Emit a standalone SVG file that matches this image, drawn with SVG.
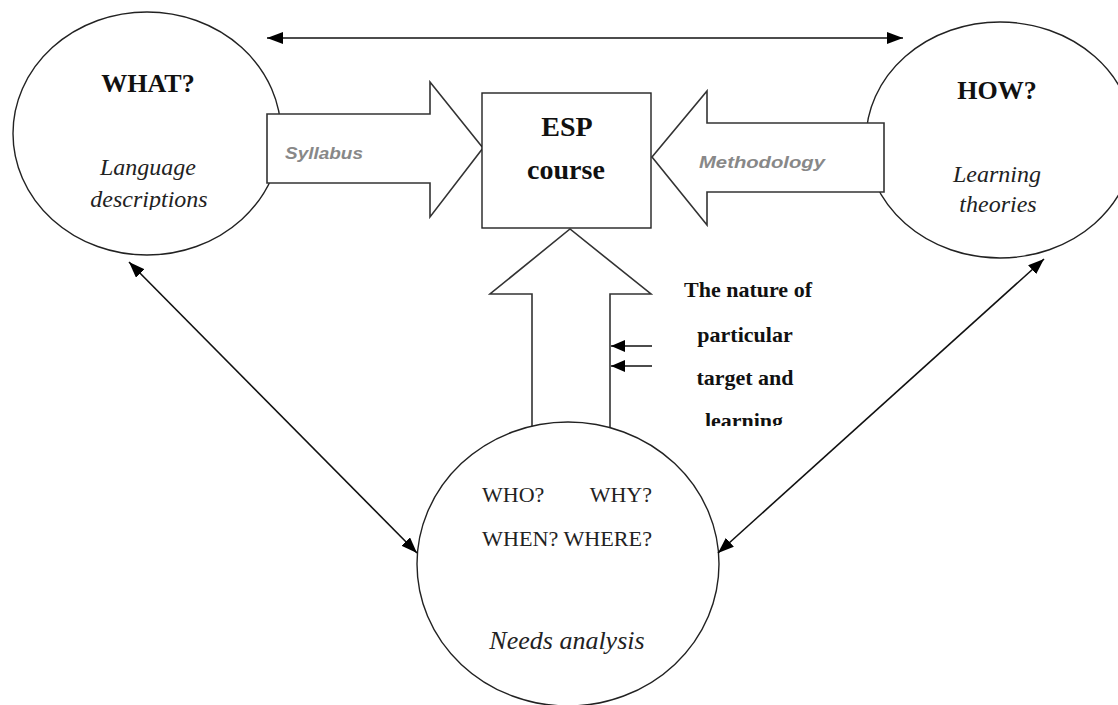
<svg xmlns="http://www.w3.org/2000/svg" width="1118" height="705" viewBox="0 0 1118 705">
<style>
.shape{fill:#fff;stroke:#222;stroke-width:1.4}
.blk{fill:#fff;stroke:#333;stroke-width:1.6}
.con{fill:none;stroke:#111;stroke-width:1.6}
.hd{font-family:"Liberation Serif",serif;font-weight:bold;fill:#111;text-anchor:middle}
.it{font-family:"Liberation Serif",serif;font-style:italic;fill:#222;text-anchor:middle}
.rg{font-family:"Liberation Serif",serif;fill:#222}
.lab{font-family:"Liberation Sans",Arial,sans-serif;font-weight:bold;font-style:italic;fill:#888;font-size:17px}
.nt{font-family:"Liberation Serif",serif;font-weight:bold;fill:#111;font-size:22px;text-anchor:middle}
</style>
<defs>
<marker id="ah" markerUnits="userSpaceOnUse" viewBox="0 0 16 12" markerWidth="16" markerHeight="12" refX="16" refY="6" orient="auto-start-reverse">
<path d="M0,0 L16,6 L0,12 z" fill="#000"/>
</marker>
<marker id="ahs" markerUnits="userSpaceOnUse" viewBox="0 0 14 12" markerWidth="14" markerHeight="12" refX="14" refY="6" orient="auto">
<path d="M0,0 L14,6 L0,12 z" fill="#000"/>
</marker>
<clipPath id="clipL"><rect x="0" y="0" width="300" height="210"/></clipPath>
<clipPath id="clipR"><rect x="850" y="0" width="268" height="213"/></clipPath>
<clipPath id="clipN"><rect x="660" y="270" width="200" height="156"/></clipPath>
</defs>

<g id="what">
<ellipse class="shape" cx="147" cy="133.5" rx="134" ry="121.5"/>
<text class="hd" x="148" y="92" font-size="26">WHAT?</text>
<g clip-path="url(#clipL)">
<text class="it" x="148" y="175" font-size="24">Language</text>
<text class="it" x="149" y="207" font-size="24">descriptions</text>
</g>
</g>

<g id="how">
<ellipse class="shape" cx="1000" cy="140" rx="134" ry="118"/>
<text class="hd" x="997" y="99" font-size="26">HOW?</text>
<g clip-path="url(#clipR)">
<text class="it" x="997" y="182" font-size="24">Learning</text>
<text class="it" x="998" y="212" font-size="24">theories</text>
</g>
</g>

<g id="syllabus">
<path class="blk" d="M267,114 L430,114 L430,82 L483,148 L430,217 L430,183 L267,183 Z"/>
<text class="lab" x="285" y="159" textLength="78" lengthAdjust="spacingAndGlyphs">Syllabus</text>
</g>

<g id="methodology">
<path class="blk" d="M884,123 L707,123 L707,91 L652,157 L707,225 L707,192 L884,192 Z"/>
<text class="lab" x="699" y="168" textLength="126" lengthAdjust="spacingAndGlyphs">Methodology</text>
</g>

<g id="esp">
<rect class="shape" x="482" y="93" width="169" height="135"/>
<text class="hd" x="567" y="136" font-size="28">ESP</text>
<text class="hd" x="566" y="179" font-size="28">course</text>
</g>

<g id="needs-arrow">
<path class="blk" d="M532,450 L532,294 L490,294 L570,229 L651,294 L610,294 L610,450"/>
</g>

<g id="needs">
<ellipse class="shape" cx="568" cy="564" rx="151" ry="142"/>
<text class="rg" x="482" y="502" font-size="22">WHO?</text>
<text class="rg" x="652" y="502" font-size="22" text-anchor="end">WHY?</text>
<text class="rg" x="482" y="546" font-size="22" textLength="170" lengthAdjust="spacingAndGlyphs">WHEN? WHERE?</text>
<text class="it" x="567" y="649" font-size="26">Needs analysis</text>
</g>

<g id="nature">
<g clip-path="url(#clipN)">
<text class="nt" x="748" y="297">The nature of</text>
<text class="nt" x="745" y="342">particular</text>
<text class="nt" x="745" y="385">target and</text>
<text class="nt" x="744" y="428">learning</text>
</g>
</g>

<g id="connectors">
<line class="con" x1="267" y1="38" x2="903" y2="38" marker-start="url(#ah)" marker-end="url(#ah)"/>
<line class="con" x1="129" y1="262" x2="417" y2="553" marker-start="url(#ah)" marker-end="url(#ah)"/>
<line class="con" x1="1044" y1="259" x2="718" y2="553" marker-start="url(#ah)" marker-end="url(#ah)"/>
<line class="con" x1="652" y1="346" x2="611" y2="346" marker-end="url(#ahs)"/>
<line class="con" x1="652" y1="366" x2="611" y2="366" marker-end="url(#ahs)"/>
</g>
</svg>
